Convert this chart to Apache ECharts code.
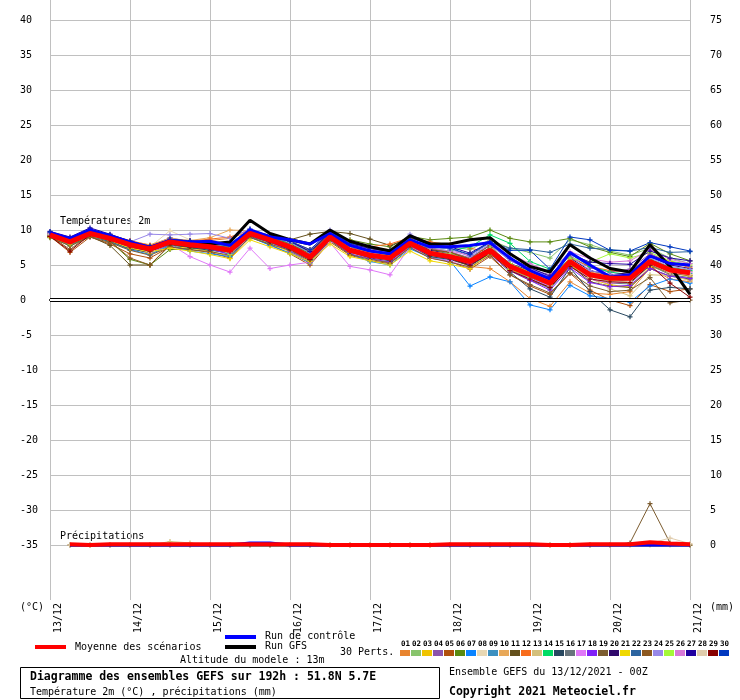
<!DOCTYPE html>
<html>
<head>
<meta charset="utf-8">
<script src="https://cdn.jsdelivr.net/npm/echarts@6/dist/echarts.min.js"></script>
<style>
  html, body { margin: 0; padding: 0; background: #fff; }
  #chart { width: 740px; height: 700px; }
</style>
</head>
<body>
<div id="chart"></div>
<script>
// echeances (heures depuis le run du 13/12 00Z)
const hours = [0, 6, 12, 18, 24, 30, 36, 42, 48, 54, 60, 66, 72, 78, 84, 90, 96,
               102, 108, 114, 120, 126, 132, 138, 144, 150, 156, 162, 168, 174, 180, 186, 192];
const dayLabels = ["13/12", "14/12", "15/12", "16/12", "17/12", "18/12", "19/12", "20/12", "21/12"];

// Temperature 2m (°C)
const tempMean = [9.3, 8.3, 9.5, 8.8, 7.9, 7.3, 8.3, 7.9, 7.6, 7.1, 9.5, 8.6, 7.6, 6.1, 9.0, 7.1, 6.4,
                  6.0, 8.1, 6.7, 6.2, 5.5, 7.1, 4.8, 3.6, 2.4, 5.5, 3.6, 3.1, 3.1, 5.5, 4.3, 3.9];
const tempControl = [9.6, 8.8, 10.0, 9.2, 8.3, 7.5, 8.5, 8.3, 8.4, 7.8, 10.0, 9.0, 8.6, 8.0, 9.5, 7.8, 7.0,
                     6.6, 8.6, 7.6, 7.6, 7.8, 8.2, 6.0, 4.2, 3.0, 6.8, 5.0, 3.3, 3.6, 6.3, 5.2, 5.0];
const tempGfs = [9.2, 8.5, 9.8, 9.0, 8.0, 7.5, 8.2, 8.0, 8.0, 8.3, 11.4, 9.5, 8.6, 8.0, 10.0, 8.4, 7.6,
                 7.0, 9.2, 8.0, 8.0, 8.6, 8.9, 6.6, 4.8, 4.0, 7.9, 6.0, 4.5, 4.0, 7.9, 4.8, 0.8];

const pert01 = [9.5, 8.6, 9.8, 9.2, 8.3, 7.6, 8.6, 8.4, 8.5, 8.8, 9.8, 9.0, 8.2, 7.0, 9.4, 8.3, 7.5, 7.2, 8.6, 7.0, 6.0, 4.8, 4.5, 2.6, 0.2, -0.9, 2.6, 1.0, 0.8, 1.2, 4.6, 3.0, 2.6];
const pert02 = [9.2, 8.0, 9.3, 8.6, 7.6, 7.0, 8.0, 7.7, 7.4, 6.8, 9.3, 8.4, 7.2, 5.6, 8.8, 7.4, 6.6, 6.2, 8.4, 7.8, 7.6, 7.2, 8.6, 7.4, 6.8, 6.0, 8.6, 7.9, 7.0, 6.4, 7.4, 6.0, 5.2];
const pert03 = [9.0, 8.1, 9.6, 8.7, 7.5, 6.6, 7.6, 7.4, 7.0, 6.2, 9.0, 8.0, 6.9, 5.2, 8.6, 6.8, 6.0, 5.3, 7.6, 6.2, 5.8, 4.9, 6.8, 4.2, 3.3, 2.1, 5.2, 3.0, 2.2, 1.8, 4.8, 3.9, 3.4];
const pert04 = [9.6, 8.5, 9.7, 9.0, 8.0, 7.7, 8.9, 8.3, 7.9, 7.5, 9.7, 8.9, 8.0, 6.4, 9.2, 7.5, 7.0, 6.6, 8.7, 7.3, 6.9, 6.0, 7.9, 5.6, 4.4, 3.6, 6.3, 4.6, 4.0, 4.4, 6.6, 5.4, 4.8];
const pert05 = [9.1, 6.8, 9.0, 8.0, 6.6, 6.0, 7.6, 7.2, 6.8, 6.0, 9.0, 7.9, 6.6, 5.0, 8.3, 6.4, 5.6, 5.2, 7.5, 6.0, 5.5, 4.4, 6.2, 3.6, 2.0, 0.8, 3.8, 1.4, 0.0, -0.8, 2.2, 1.2, 1.6];
const pert06 = [8.9, 7.8, 9.1, 8.4, 5.8, 5.0, 7.2, 7.3, 7.6, 7.9, 9.2, 8.6, 8.2, 6.9, 8.9, 8.6, 8.0, 7.6, 9.1, 8.6, 8.8, 9.0, 10.0, 8.8, 8.3, 8.3, 8.8, 7.6, 6.8, 6.2, 8.1, 6.6, 5.6];
const pert07 = [9.0, 7.9, 9.2, 8.3, 7.2, 6.5, 7.8, 7.0, 6.6, 6.2, 9.0, 7.8, 6.7, 5.3, 8.5, 6.6, 5.5, 5.0, 7.3, 6.1, 5.6, 2.0, 3.3, 2.6, -0.7, -1.4, 2.1, 0.6, 0.2, -0.3, 2.0, 3.0, 2.4];
const pert08 = [9.4, 8.4, 9.6, 8.9, 8.2, 7.6, 9.9, 8.6, 8.1, 7.6, 9.4, 8.8, 7.8, 6.4, 9.1, 7.4, 6.5, 6.2, 8.3, 6.8, 6.2, 5.6, 7.0, 4.6, 3.5, 2.4, 5.6, 3.8, 3.3, 3.3, 6.0, 3.7, 2.8];
const pert09 = [9.2, 8.2, 9.4, 8.5, 7.5, 6.9, 8.1, 7.6, 7.2, 6.6, 9.3, 8.3, 7.4, 6.0, 9.4, 7.0, 6.2, 5.8, 8.0, 6.5, 6.0, 5.0, 6.9, 4.5, 3.2, 2.0, 5.4, 3.4, 2.6, 2.9, 5.3, 4.4, 3.8];
const pert10 = [9.5, 8.7, 9.9, 9.1, 8.4, 7.9, 8.8, 8.5, 8.9, 10.0, 9.9, 8.8, 7.9, 6.6, 9.0, 7.6, 6.8, 6.9, 8.5, 7.2, 6.8, 5.9, 7.4, 5.0, 3.9, 2.8, 5.8, 4.0, 3.5, 3.7, 5.8, 4.6, 4.1];
const pert11 = [9.0, 8.0, 9.1, 7.8, 5.0, 5.0, 7.8, 7.6, 7.6, 7.6, 9.6, 8.9, 8.6, 9.4, 9.8, 9.5, 8.7, 7.8, 8.8, 7.2, 6.8, 5.8, 7.0, 4.2, 2.8, 1.8, 5.0, 2.6, 2.0, 1.8, 4.5, 3.4, 3.0];
const pert12 = [9.6, 8.9, 10.0, 9.3, 8.5, 7.8, 8.7, 8.4, 8.7, 9.0, 10.0, 9.2, 8.4, 7.2, 9.6, 8.4, 7.6, 8.0, 8.9, 8.3, 7.9, 7.4, 6.8, 5.2, 4.0, 3.0, 6.0, 4.8, 4.2, 4.0, 6.4, 5.5, 4.6];
const pert13 = [9.3, 8.3, 9.5, 8.8, 7.8, 7.2, 8.2, 7.9, 7.6, 7.2, 9.5, 8.6, 7.8, 6.2, 9.2, 7.2, 6.6, 6.1, 8.2, 6.8, 6.3, 5.4, 7.2, 4.7, 3.5, 2.3, 5.4, 3.2, 1.6, 0.6, 3.6, 3.5, 2.8];
const pert14 = [9.4, 8.5, 9.6, 9.0, 7.9, 7.3, 8.4, 8.1, 7.7, 7.0, 9.6, 8.9, 8.0, 6.8, 9.4, 7.8, 7.3, 6.6, 8.6, 7.4, 7.0, 7.6, 9.3, 8.1, 5.5, 4.4, 6.6, 4.8, 4.0, 3.6, 5.8, 4.7, 4.2];
const pert15 = [9.1, 8.0, 9.2, 8.4, 7.3, 6.8, 7.9, 7.5, 7.1, 6.8, 9.1, 8.2, 7.2, 5.8, 8.8, 6.9, 6.0, 5.6, 7.8, 6.2, 5.8, 4.9, 6.6, 4.0, 1.6, 0.4, 4.6, 1.2, -1.4, -2.4, 1.4, 1.8, 1.6];
const pert16 = [9.2, 8.2, 9.4, 8.7, 7.7, 7.1, 8.2, 7.8, 7.4, 6.9, 9.4, 8.5, 7.5, 6.0, 8.9, 7.0, 6.3, 5.8, 8.0, 6.6, 6.1, 5.2, 6.9, 4.4, 3.0, 1.6, 5.0, 3.0, 2.4, 2.3, 5.0, 3.6, 3.2];
const pert17 = [9.4, 8.4, 9.3, 8.6, 7.6, 6.8, 8.0, 6.2, 5.0, 4.0, 7.4, 4.5, 5.0, 5.4, 8.2, 4.8, 4.3, 3.6, 7.6, 6.0, 5.6, 4.6, 6.4, 4.2, 3.0, 2.0, 5.2, 3.0, 2.4, 2.6, 5.2, 4.5, 4.0];
const pert18 = [9.3, 8.2, 9.6, 8.8, 7.8, 7.0, 8.1, 7.7, 7.3, 6.5, 9.2, 8.3, 7.0, 5.4, 8.7, 6.6, 5.9, 5.4, 7.7, 6.4, 5.9, 5.1, 6.8, 4.2, 2.8, 1.4, 4.6, 2.5, 1.9, 2.1, 4.5, 3.4, 3.1];
const pert19 = [9.0, 7.7, 9.0, 8.2, 7.1, 6.4, 7.6, 7.2, 6.9, 6.4, 8.9, 8.0, 7.1, 5.6, 8.5, 6.5, 5.8, 5.3, 7.5, 6.0, 5.4, 4.7, 6.4, 3.6, 2.2, 1.0, 3.9, 2.0, 1.2, 1.4, 3.2, -0.4, 0.0];
const pert20 = [9.5, 8.5, 9.8, 9.1, 8.1, 7.5, 8.5, 8.1, 7.8, 7.3, 9.7, 8.9, 7.9, 6.4, 9.3, 7.6, 6.9, 6.4, 8.4, 7.1, 6.6, 5.8, 7.5, 5.2, 4.2, 3.2, 6.0, 4.2, 3.6, 3.9, 6.2, 5.0, 4.5];
const pert21 = [9.0, 8.0, 9.2, 8.5, 7.4, 6.9, 7.4, 7.0, 6.5, 5.9, 8.6, 7.6, 6.6, 5.5, 8.0, 6.2, 5.6, 5.0, 7.0, 5.6, 5.1, 4.5, 6.6, 4.4, 3.3, 2.2, 5.0, 3.3, 2.8, 2.5, 5.4, 4.2, 3.6];
const pert22 = [9.3, 8.3, 9.6, 8.9, 8.1, 7.5, 8.6, 8.3, 8.0, 7.7, 9.8, 8.9, 8.3, 7.0, 9.6, 8.2, 7.5, 7.0, 8.6, 7.6, 7.3, 6.4, 8.2, 7.4, 7.2, 6.8, 8.0, 7.4, 7.2, 7.0, 7.5, 6.8, 6.9];
const pert23 = [9.2, 7.2, 9.4, 8.4, 6.0, 5.0, 7.9, 7.6, 7.5, 7.4, 9.4, 8.6, 8.0, 6.6, 9.8, 7.9, 7.3, 6.8, 8.8, 7.4, 6.8, 5.9, 7.8, 4.9, 3.6, 2.4, 5.5, 3.6, 2.9, 3.2, 5.1, 3.8, 3.5];
const pert24 = [9.6, 8.8, 9.9, 9.2, 8.3, 9.4, 9.3, 9.4, 9.5, 8.8, 10.2, 9.2, 8.2, 6.8, 10.0, 8.0, 7.2, 6.8, 9.4, 7.8, 7.3, 6.2, 8.0, 5.6, 4.4, 3.3, 6.4, 4.2, 3.7, 3.4, 6.0, 4.8, 4.4];
const pert25 = [9.4, 8.5, 9.7, 9.0, 8.2, 7.6, 8.6, 8.2, 8.0, 6.5, 9.5, 8.8, 7.9, 6.3, 9.3, 7.6, 6.9, 6.3, 8.3, 6.9, 6.6, 5.7, 7.4, 5.2, 4.0, 3.0, 6.0, 5.4, 6.6, 6.0, 6.8, 5.6, 5.0];
const pert26 = [9.5, 8.6, 9.8, 9.0, 8.0, 7.4, 8.5, 7.9, 7.4, 6.8, 9.5, 8.7, 7.7, 6.2, 9.1, 7.3, 6.7, 6.2, 8.5, 7.4, 7.0, 6.4, 8.4, 6.6, 5.2, 4.0, 6.9, 5.9, 5.4, 5.6, 7.2, 5.8, 5.2];
const pert27 = [9.8, 9.0, 10.3, 9.4, 8.4, 7.7, 8.6, 8.5, 8.2, 7.8, 10.0, 9.2, 8.4, 6.9, 9.6, 8.0, 7.4, 6.9, 8.9, 7.9, 7.6, 6.7, 8.3, 6.0, 4.6, 3.4, 6.6, 5.4, 5.2, 5.1, 7.0, 6.0, 5.6];
const pert28 = [9.3, 8.4, 9.5, 8.8, 7.9, 7.3, 8.3, 8.0, 7.7, 7.3, 9.6, 8.6, 7.7, 6.3, 9.1, 7.2, 6.5, 6.1, 8.1, 6.7, 6.2, 5.5, 7.1, 4.7, 3.6, 2.4, 5.4, 3.3, 2.6, 2.7, 5.2, 3.9, 3.6];
const pert29 = [9.1, 7.0, 9.3, 8.6, 7.6, 7.0, 8.0, 7.6, 7.3, 6.9, 9.3, 8.3, 7.3, 5.8, 8.9, 6.9, 6.2, 5.8, 7.9, 6.4, 5.9, 5.0, 6.7, 4.2, 3.0, 1.8, 4.8, 3.0, 2.6, 2.5, 5.0, 2.4, 0.4];
const pert30 = [9.7, 8.8, 10.1, 9.3, 8.4, 7.6, 8.7, 8.4, 8.2, 8.0, 10.1, 9.0, 8.4, 7.2, 9.8, 8.1, 7.6, 7.0, 9.0, 7.8, 7.4, 6.5, 8.3, 7.1, 7.1, 4.4, 9.0, 8.6, 7.1, 7.0, 8.2, 7.6, 7.0];

const perts = [pert01, pert02, pert03, pert04, pert05, pert06, pert07, pert08, pert09, pert10,
               pert11, pert12, pert13, pert14, pert15, pert16, pert17, pert18, pert19, pert20,
               pert21, pert22, pert23, pert24, pert25, pert26, pert27, pert28, pert29, pert30];
const pertColors = ["#e8842f", "#88c46c", "#f0c400", "#8c54ac", "#b0500c", "#5a8a10", "#0a84ff", "#e8d8b4",
                    "#3c90c0", "#e8a858", "#64501c", "#f86c1c", "#d4c07c", "#00dc64", "#284860", "#68747c",
                    "#e078f8", "#8020f8", "#7c5c30", "#30086c", "#f0d800", "#2c64a0", "#8c5820", "#9888e8",
                    "#a4f838", "#d878d8", "#2000a0", "#e0ccac", "#880000", "#0038c0"];

// Precipitations (mm, axe de droite)
const precipMean = [null, 0.1, 0, 0.1, 0.1, 0.1, 0.1, 0.1, 0.1, 0.1, 0.1, 0.1, 0.1, 0.1, 0, 0, 0,
                    0, 0, 0, 0.1, 0.1, 0.1, 0.1, 0.1, 0, 0, 0.1, 0.1, 0.1, 0.4, 0.2, 0.1];
const precipControl = [null, 0, 0, 0, 0, 0, 0, 0, 0, 0, 0.3, 0.3, 0, 0, 0, 0, 0,
                       0, 0, 0, 0, 0, 0, 0, 0, 0, 0, 0, 0, 0, 0, 0, 0];
const precipGfs = [null, 0, 0, 0, 0, 0, 0, 0, 0, 0, 0, 0, 0, 0, 0, 0, 0,
                   0, 0, 0, 0, 0, 0, 0, 0, 0, 0, 0, 0, 0, 0, 0, 0];
const precipPert13 = [null, 0, 0, 0, 0, 0, 0.5, 0.3, 0, 0, 0, 0, 0, 0, 0, 0, 0,
                      0, 0, 0, 0, 0, 0, 0, 0, 0, 0, 0, 0, 0, 0, 0, 0];
const precipPert19 = [null, 0, 0, 0, 0, 0, 0, 0, 0, 0, 0, 0, 0, 0, 0, 0, 0,
                      0, 0, 0, 0, 0, 0, 0, 0, 0, 0, 0, 0, 0.3, 5.9, 0.3, 0];
const precipPert28 = [null, 0, 0, 0, 0, 0, 0, 0, 0, 0, 0, 0, 0, 0, 0, 0, 0,
                      0, 0, 0, 0, 0, 0, 0, 0, 0, 0, 0, 0, 0, 0.2, 1.0, 0.2];

const FONT = "DejaVu Sans Mono";
const pairs = arr => hours.map((h, i) => [h, arr[i]]);
const plus = "path://M-0.5,-2h1v4h-1z M-2,-0.5h4v1h-4z";

const chart = echarts.init(document.getElementById("chart"));

let series = [];
perts.forEach((p, i) => {
    series.push({
        name: "P" + (i + 1), type: "line", data: pairs(p),
        symbol: plus, symbolSize: 5, showSymbol: true,
        lineStyle: { color: pertColors[i], width: 1 },
        itemStyle: { color: pertColors[i] },
        silent: true, z: 2
    });
});
series.push({ name: "Run GFS", type: "line", data: pairs(tempGfs), symbol: "none",
    lineStyle: { color: "#000", width: 3 }, z: 3, silent: true });
series.push({ name: "Run de contrôle", type: "line", data: pairs(tempControl), symbol: "none",
    lineStyle: { color: "#0000ff", width: 3 }, z: 4, silent: true });
series.push({ name: "Moyenne", type: "line", data: pairs(tempMean), symbol: "none",
    lineStyle: { color: "#ff0000", width: 5 }, z: 5, silent: true,
    // double trait noir a 0°C : trait noir epais + trait blanc au milieu
    markLine: {
        silent: true, symbol: "none", label: { show: false },
        data: [
            { yAxis: 0, lineStyle: { color: "#000", width: 4, type: "solid" } },
            { yAxis: 0, lineStyle: { color: "#fff", width: 2, type: "solid" } }
        ]
    }
});

// precipitations
[[precipPert13, pertColors[12]], [precipPert19, pertColors[18]], [precipPert28, pertColors[27]]].forEach(([p, c]) => {
    series.push({ type: "line", yAxisIndex: 1, data: pairs(p), symbol: plus, symbolSize: 5,
        lineStyle: { color: c, width: 1 }, itemStyle: { color: c }, z: 2, silent: true });
});
series.push({ type: "line", yAxisIndex: 1, data: pairs(precipGfs), symbol: "none",
    lineStyle: { color: "#000", width: 3 }, z: 3, silent: true });
series.push({ type: "line", yAxisIndex: 1, data: pairs(precipControl), symbol: "none",
    lineStyle: { color: "#0000ff", width: 3 }, z: 4, silent: true });
series.push({ type: "line", yAxisIndex: 1, data: pairs(precipMean), symbol: "none",
    lineStyle: { color: "#ff0000", width: 4 }, z: 5, silent: true });

const clear = "rgba(0,0,0,0)";
let splitColors = [clear, clear];
for (let k = 0; k < 16; k++) splitColors.push("#c0c0c0");
splitColors.push(clear);

const txt = (x, y, text, opt) => Object.assign({
    type: "text", x: x, y: y, silent: true,
    style: Object.assign({ text: text, font: "10px '" + FONT + "'", fill: "#000", verticalAlign: "middle" }, opt || {})
});
const box = (x, y, w, h, color) => ({ type: "rect", silent: true, shape: { x: x, y: y, width: w, height: h }, style: { fill: color } });

let graphics = [
    txt(60, 221, "Températures 2m"),
    txt(60, 536, "Précipitations"),
    txt(20, 607, "(°C)"),
    txt(710, 607, "(mm)"),
    box(35, 645, 31, 4, "#ff0000"),
    txt(75, 647, "Moyenne des scénarios"),
    box(225, 635, 31, 4, "#0000ff"),
    txt(265, 636.5, "Run de contrôle"),
    box(225, 645, 31, 4, "#000000"),
    txt(265, 646.5, "Run GFS"),
    txt(340, 652, "30 Perts."),
    txt(180, 660.5, "Altitude du modele : 13m"),
    { type: "rect", silent: true, shape: { x: 20.5, y: 667.5, width: 419, height: 31 },
      style: { fill: "#fff", stroke: "#000", lineWidth: 1 } },
    txt(30, 677, "Diagramme des ensembles GEFS sur 192h : 51.8N 5.7E", { font: "bold 11.5px '" + FONT + "'" }),
    txt(30, 692, "Température 2m (°C) , précipitations (mm)"),
    txt(449, 672, "Ensemble GEFS du 13/12/2021 - 00Z"),
    txt(449, 692, "Copyright 2021 Meteociel.fr", { font: "bold 11.5px '" + FONT + "'" })
];
pertColors.forEach((c, i) => {
    const num = (i + 1 < 10 ? "0" : "") + (i + 1);
    graphics.push(txt(405.5 + i * 11, 644, num, { font: "bold 7.5px '" + FONT + "'", align: "center" }));
    graphics.push(box(400 + i * 11, 650, 10, 6, c));
});

const option = {
    animation: false,
    backgroundColor: "#fff",
    grid: { left: 50, right: 50, top: 0, bottom: 100 },
    xAxis: {
        type: "value", min: 0, max: 192, interval: 24,
        axisLine: { show: true, lineStyle: { color: "#000", width: 2 } },
        axisTick: { show: false },
        axisLabel: {
            rotate: 90, margin: 3, verticalAlign: "top", lineHeight: 16,
            fontFamily: FONT, fontSize: 10, color: "#000",
            formatter: v => dayLabels[Math.round(v / 24)]
        },
        splitLine: { show: true, lineStyle: { color: "#c0c0c0", width: 1 } }
    },
    yAxis: [
        {
            type: "value", min: -300 / 7, max: 300 / 7, splitNumber: 17,
            axisLine: { show: false }, axisTick: { show: false },
            axisLabel: {
                align: "left", margin: 30, fontFamily: FONT, fontSize: 10, color: "#000",
                showMinLabel: false, showMaxLabel: false,
                formatter: v => (v < -35.5 || v > 40.5) ? "" : String(Math.round(v))
            },
            splitLine: { show: true, lineStyle: { color: splitColors, width: 1 } }
        },
        {
            type: "value", position: "right", min: -300 / 7 + 35, max: 300 / 7 + 35, splitNumber: 17,
            axisLine: { show: false }, axisTick: { show: false },
            axisLabel: {
                align: "left", margin: 20, fontFamily: FONT, fontSize: 10, color: "#000",
                showMinLabel: false, showMaxLabel: false,
                formatter: v => (v < -0.5 || v > 75.5) ? "" : String(Math.round(v))
            },
            splitLine: { show: false }
        }
    ],
    series: series,
    graphic: graphics
};
chart.setOption(option);
</script>
</body>
</html>
